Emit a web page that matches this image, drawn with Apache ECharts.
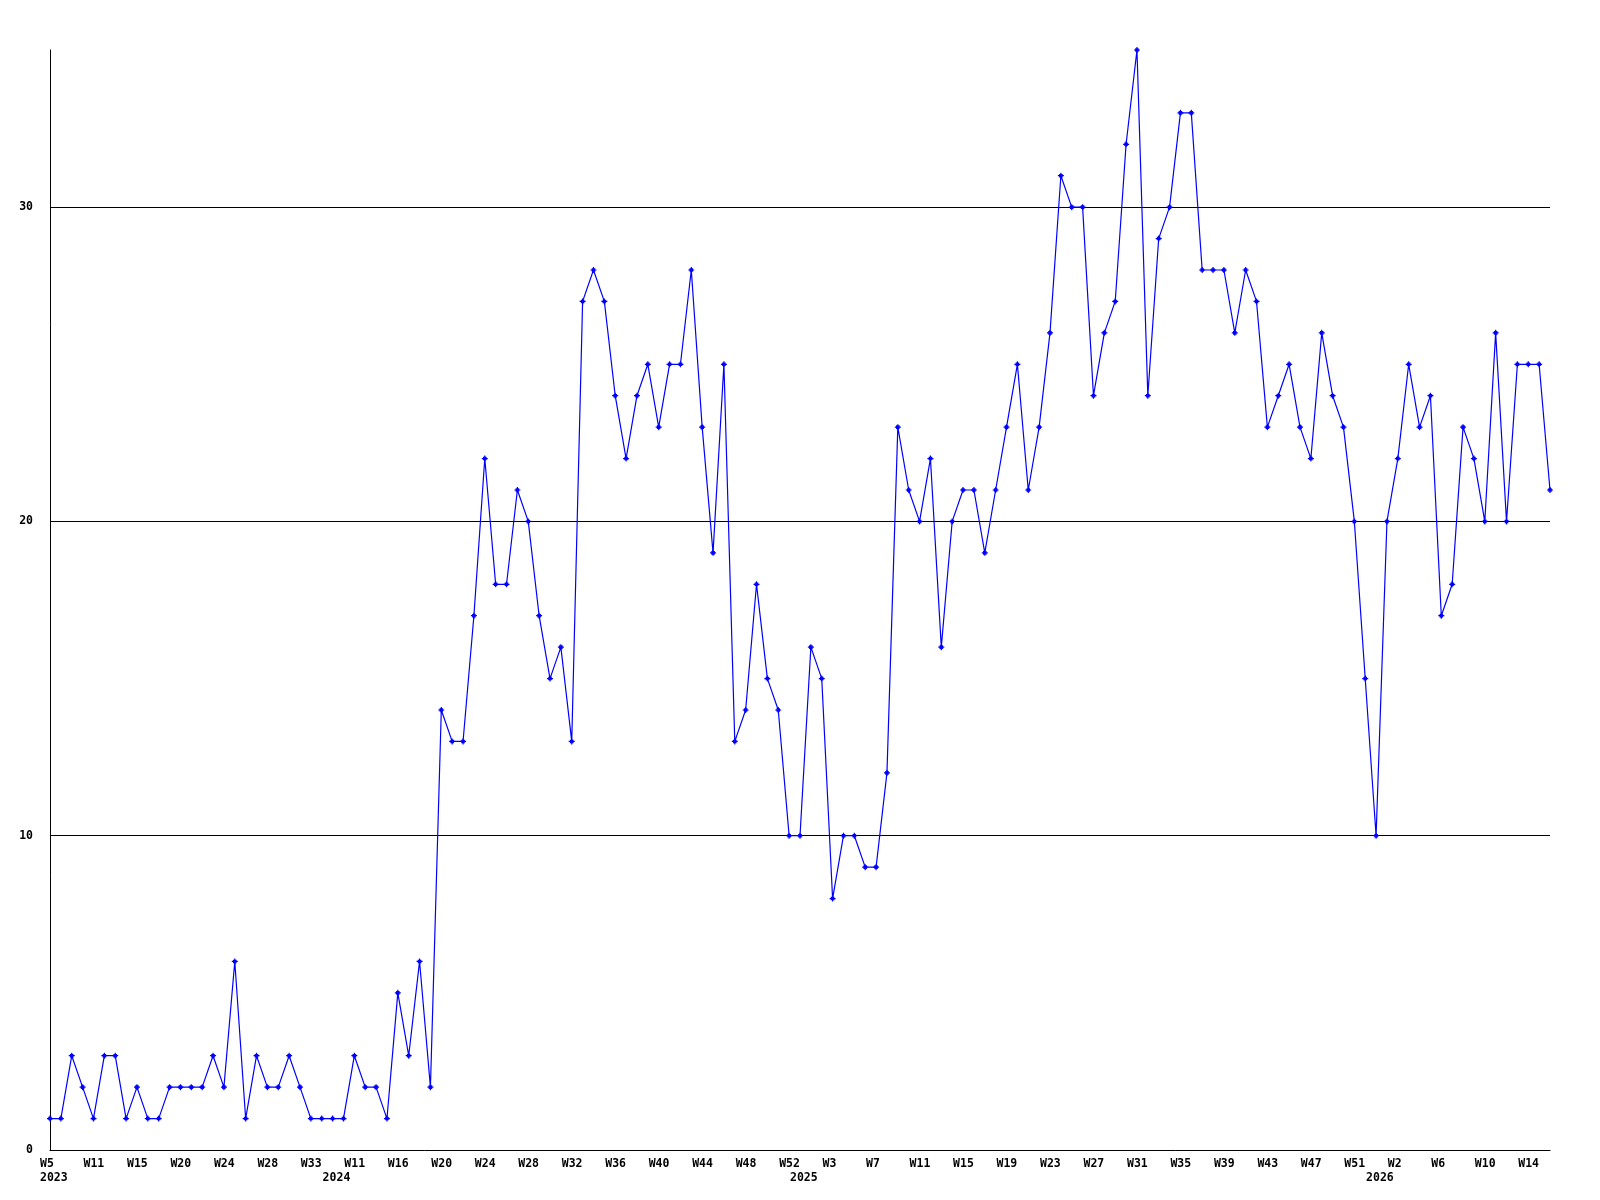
<!DOCTYPE html>
<html>
<head>
<meta charset="utf-8">
<script src="https://cdn.jsdelivr.net/npm/echarts@6/dist/echarts.min.js"></script>
<style>
html,body{margin:0;padding:0;background:#fff;}
#chart{width:1600px;height:1200px;}
</style>
</head>
<body>
<div id="chart"></div>
<script>
// Week categories ("year week")
const weeks2023 = ['W5','W6','W8','W9','W11','W12','W13','W14','W15','W16','W17','W19','W20','W21','W22','W23','W24','W25','W26','W27','W28','W29','W31','W32','W33','W34'];
const weeks2024 = ['W9','W10','W11','W12','W14','W15','W16','W17','W18','W19','W20','W21','W22','W23','W24','W25','W26','W27','W28','W29','W30','W31','W32','W33','W34','W35','W36','W37','W38','W39','W40','W41','W42','W43','W44','W45','W46','W47','W48','W49','W50','W51','W52'];
const weeks2025 = ['W0','W1','W2','W3','W4','W5','W6','W7','W8','W9','W10','W11','W12','W13','W14','W15','W16','W17','W18','W19','W20','W21','W22','W23','W24','W25','W26','W27','W28','W29','W30','W31','W32','W33','W34','W35','W36','W37','W38','W39','W40','W41','W42','W43','W44','W45','W46','W47','W48','W49','W50','W51','W52'];
const weeks2026 = ['W0','W1','W2','W3','W4','W5','W6','W7','W8','W9','W10','W11','W12','W13','W14','W15','W16'];

const categories = [].concat(
  weeks2023.map(w => '2023 ' + w),
  weeks2024.map(w => '2024 ' + w),
  weeks2025.map(w => '2025 ' + w),
  weeks2026.map(w => '2026 ' + w)
);

const values = [
  1,1,3,2,1,3,3,1,2,1,1,2,2,2,2,3,2,6,1,3,2,2,3,2,1,1,
  1,1,3,2,2,1,5,3,6,2,14,13,13,17,22,18,18,21,20,17,15,16,13,27,28,27,24,22,24,25,23,25,25,28,23,19,25,13,14,18,15,14,10,
  10,16,15,8,10,10,9,9,12,23,21,20,22,16,20,21,21,19,21,23,25,21,23,26,31,30,30,24,26,27,32,35,24,29,30,33,33,28,28,28,26,28,27,23,24,25,23,22,26,24,23,20,15,
  10,20,22,25,23,24,17,18,23,22,20,26,20,25,25,25,21
];

const yTicks = [0, 10, 20, 30];
const yMax = 35;

const font = {
  fontFamily: 'DejaVu Sans Mono',
  fontWeight: 'bold',
  fontSize: 11.5,
  color: '#000'
};

const yearOf = v => v.split(' ')[0];
const weekOf = v => v.split(' ')[1];

const chart = echarts.init(document.getElementById('chart'), null, {renderer: 'canvas'});
chart.setOption({
  animation: false,
  backgroundColor: '#fff',
  grid: {left: 50, right: 50, top: 50, bottom: 50, containLabel: false},
  xAxis: [
    {
      type: 'category',
      data: categories,
      boundaryGap: false,
      axisLine: {show: true, lineStyle: {color: '#000', width: 1}},
      axisTick: {show: false},
      splitLine: {show: false},
      axisLabel: Object.assign({}, font, {
        interval: 3,
        margin: 8,
        align: 'left',
        padding: [0, 0, 0, -10],
        formatter: v => weekOf(v)
      })
    },
    {
      type: 'category',
      data: categories,
      position: 'bottom',
      boundaryGap: false,
      axisLine: {show: false},
      axisTick: {show: false},
      splitLine: {show: false},
      axisLabel: Object.assign({}, font, {
        margin: 22,
        align: 'left',
        padding: [0, 0, 0, -10],
        interval: (i, v) => i === 0 || yearOf(v) !== yearOf(categories[i - 1]),
        formatter: v => yearOf(v)
      })
    }
  ],
  yAxis: {
    type: 'value',
    min: 0,
    max: yMax,
    interval: 10,
    axisLine: {show: true, lineStyle: {color: '#000', width: 1}},
    axisTick: {show: false},
    splitLine: {show: true, showMinLine: false, showMaxLine: false, lineStyle: {color: '#000', width: 1}},
    axisLabel: Object.assign({}, font, {
      margin: 17,
      showMaxLabel: false,
      formatter: v => (yTicks.indexOf(v) >= 0 ? String(v) : '')
    })
  },
  series: [{
    type: 'line',
    xAxisIndex: 0,
    data: values,
    symbol: 'path://M2,0H3V1H4V2H5V3H4V4H3V5H2V4H1V3H0V2H1V1H2Z',
    symbolSize: 6,
    showAllSymbol: true,
    lineStyle: {color: '#0000ff', width: 1.2},
    itemStyle: {color: '#0000ff'},
    clip: true
  }]
});
</script>
</body>
</html>
